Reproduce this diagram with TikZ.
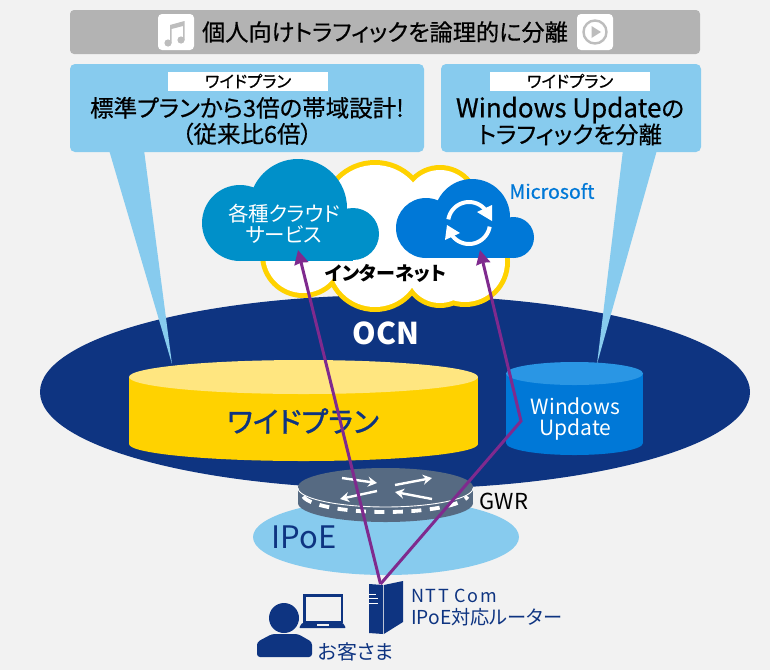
\documentclass[tikz,border=0pt]{standalone}
\usepackage{fontspec}
\setmainfont[RawFeature=+palt]{Noto Sans CJK JP}
\newfontfamily\medfont[FakeBold=0.5,RawFeature=+palt]{Noto Sans CJK JP}
\newfontfamily\heavyfont[FakeBold=1.2,RawFeature=+palt]{Noto Sans CJK JP}
\newfontfamily\widefont[LetterSpace=9]{Noto Sans CJK JP}
\usetikzlibrary{positioning,shapes.geometric,arrows.meta}
\definecolor{pagegray}{HTML}{F2F2F2}
\definecolor{bargray}{HTML}{B3B3B3}
\definecolor{icongray}{HTML}{BDBDBD}
\definecolor{skyblue}{HTML}{87CBEE}
\definecolor{navy}{HTML}{0E3481}
\definecolor{cloudblue}{HTML}{0090C9}
\definecolor{msblue}{HTML}{0078D7}
\definecolor{mstop}{HTML}{2A96E4}
\definecolor{gold}{HTML}{FFD200}
\definecolor{goldtop}{HTML}{FFE680}
\definecolor{slate}{HTML}{566A82}
\definecolor{linkpurple}{HTML}{7F2A8E}
\begin{document}
\begin{tikzpicture}[x=1pt, y=-1pt,
  bubble/.style={fill=skyblue, rounded corners=5pt, minimum height=88pt, inner sep=0pt},
  tagbox/.style={fill=white, minimum width=160pt, minimum height=19pt, inner sep=0pt, font=\fontsize{16.5}{17}\medfont},
  bubble text/.style={align=center, inner sep=0pt, font=\fontsize{23.5}{26}\medfont},
  icon box/.style={fill=white, rounded corners=4pt, minimum width=36pt, minimum height=36pt, inner sep=0pt},
  label/.style={inner sep=0pt, text=navy},
  link/.style={line width=3pt, draw=linkpurple, -{Stealth[length=14pt,width=14pt,inset=1pt]}},
  router arrow/.style={draw=white, line width=2.4pt, -{Stealth[length=9pt,width=10pt]}}]

  \useasboundingbox (0,0) rectangle (770,670);
  \fill[pagegray] (0,0) rectangle (770,670);

  % Network
  \node[ellipse, fill=navy, minimum width=710pt, minimum height=194pt, inner sep=0pt] (ocn) at (395,392) {};
  \node[ellipse, fill=skyblue, minimum width=266pt, minimum height=76pt, inner sep=0pt] (ipoe) at (386,537) {};

  % Define callouts
  \fill[skyblue] (109,150) -- (144,150) -- (172,364) -- cycle;
  \fill[skyblue] (623,150) -- (657,150) -- (597,364) -- cycle;
  \node[fill=bargray, rounded corners=4pt, minimum width=630pt, minimum height=44pt, inner sep=0pt] (titlebar) at (385,32) {};
  \node[inner sep=0pt, font=\fontsize{23.2}{26}\medfont] (title) at (385,32) {個人向けトラフィックを論理的に分離};
  \node[icon box] (musicicon) at (176,32) {};
  \node[icon box] (playicon) at (595,32) {};
  \node[bubble, minimum width=354pt] (leftbubble) at (247,108) {};
  \node[bubble, minimum width=260pt] (rightbubble) at (571,108) {};
  \node[tagbox] (lefttag) at (248,81) {ワイドプラン};
  \node[tagbox] (righttag) at (570,81) {ワイドプラン};
  \node[bubble text] (lefttext) at (247,121) {標準プランから3倍の帯域設計!\\（従来比6倍）};
  \node[bubble text] (righttext) at (570,121) {{\fontsize{26}{26}\selectfont Windows Update}の\\トラフィックを分離};

  % Icon glyphs
  \fill[icongray] (168,43) circle[radius=3.6] (181,40) circle[radius=3.6];
  \fill[icongray] (170,43) -- (170,25) -- (184.5,21) -- (184.5,40) -- (183,40) -- (183,26) -- (171.5,29) -- (171.5,43) -- cycle;
  \draw[icongray, line width=2.4pt] (595,32) circle[radius=11.5];
  \fill[icongray] (591.5,26) -- (601,32) -- (591.5,38) -- cycle;

  % Internet cloud
  \fill[gold] (375,215) circle[radius=55] (440,205) circle[radius=40] (465,262) circle[radius=45]
    (440,270) circle[radius=38] (375,262) circle[radius=50] (303,255) circle[radius=43];
  \fill[white] (375,215) circle[radius=50] (440,205) circle[radius=35] (465,262) circle[radius=40]
    (440,270) circle[radius=33] (375,262) circle[radius=45] (303,255) circle[radius=38];
  \fill[cloudblue] (240,223) circle[radius=38] (298,208) circle[radius=49] (353,234) circle[radius=26];
  \fill[cloudblue] (240,215) rectangle (353,261);
  \fill[msblue] (426,228) circle[radius=30] (472,217) circle[radius=38] (513.5,237.5) circle[radius=20.5];
  \fill[msblue] (426,220) rectangle (513.5,258);

  % Refresh glyph
  \draw[white, line width=4pt] plot[domain=190:320, samples=24] ({469+21*cos(\x)},{223+21*sin(\x)});
  \fill[white] (492,205) -- (492,221) -- (477,212) -- cycle;
  \draw[white, line width=4pt] plot[domain=10:145, samples=24] ({469+21*cos(\x)},{223+21*sin(\x)});
  \fill[white] (445,240) -- (460,233) -- (447,225) -- cycle;

  \node[inner sep=0pt, text=white, align=center, font=\fontsize{20.5}{21}\selectfont] (cloudtext) at (284,224) {各種クラウド\\サービス};
  \node[inner sep=0pt, font=\fontsize{19}{20}\bfseries] (nettext) at (385.5,273) {インターネット};
  \node[inner sep=0pt, text=msblue, font=\fontsize{19.5}{20}\medfont] (mstext) at (552,191) {Microsoft};
  \node[inner sep=0pt, text=white, font=\fontsize{30}{32}\bfseries] (ocntext) at (386,333) {OCN};

  % Wide plan store
  \fill[gold] (129,377) rectangle (478,444);
  \fill[gold] (303.5,444) ellipse[x radius=174.5, y radius=17];
  \fill[goldtop] (303.5,377) ellipse[x radius=174.5, y radius=17];
  \node[label, font=\fontsize{29}{30}\heavyfont] (widetext) at (303,421) {ワイドプラン};

  % Update store
  \fill[msblue] (506,373.5) rectangle (643,443);
  \fill[msblue] (574.5,443) ellipse[x radius=68.5, y radius=12];
  \fill[mstop] (574.5,373.5) ellipse[x radius=68.5, y radius=11.5];
  \node[inner sep=0pt, text=white, align=center, font=\fontsize{21}{21}\selectfont] (updatetext) at (575.5,419) {Windows\\Update};

  % GWR
  \fill[slate] (298,487) rectangle (473,503);
  \fill[slate] (385.5,503) ellipse[x radius=87.5, y radius=19];
  \draw[white, line width=3.8pt, dash pattern=on 10pt off 8.5pt] plot[domain=172:8, samples=40] ({385.5+83*cos(\x)},{494+18*sin(\x)});
  \fill[slate] (385.5,487) ellipse[x radius=87.5, y radius=19];
  \draw[white, line width=.9pt] plot[domain=0:180, samples=40] ({385.5+87.5*cos(\x)},{488+19*sin(\x)});
  \draw[router arrow] (342,478) -- (377,483);
  \draw[router arrow] (377,491) -- (340,499);
  \draw[router arrow] (395,485) -- (432,478);
  \draw[router arrow] (432,499) -- (395,492);
  \node[inner sep=0pt, font=\fontsize{22}{24}\selectfont] (gwrtext) at (504,501) {GWR};
  \node[label, font=\fontsize{31}{32}\selectfont] (ipoetext) at (304,537) {IPoE};

  % Customer
  \fill[navy] (369,584) -- (383,585) -- (383,634) -- (369,633) -- cycle;
  \fill[navy] (383.8,585) -- (403,581) -- (403,622) -- (383.8,634) -- cycle;
  \draw[white, line width=.8pt] (369,594) -- (376,594) (369,598) -- (378,598) (369,603) -- (378,603);
  \coordinate (router) at (380.5,584);
  \fill[navy] (284,618) circle[radius=15];
  \fill[navy, rounded corners=3pt] (257,657) -- (257,642) -- (272,634) -- (298,634) -- (312,642) -- (312,657) -- cycle;
  \draw[navy, line width=2.4pt] (304.5,595.5) rectangle (342,622);
  \fill[navy, rounded corners=1pt] (299,628) -- (302,623) -- (343,623) -- (346,628) -- cycle;
  \fill[pagegray] (317,624) rectangle (329,625.5);
  \node[label, font=\fontsize{18}{20}\widefont, anchor=west] (comtext) at (411,596) {NTT Com};
  \node[label, font=\fontsize{19.2}{20}\selectfont, anchor=west] (routertext) at (411,617) {IPoE対応ルーター};
  \node[label, font=\fontsize{20}{20}\selectfont] (usertext) at (356,652) {お客さま};

  % Define edges
  \coordinate (cloudtip) at (298,250);
  \coordinate (mstip) at (480,250);
  \coordinate (bend) at (521,421);
  \draw[link] (router) -- (cloudtip);
  \draw[link] (router) -- (bend) -- (mstip);
\end{tikzpicture}
\end{document}
